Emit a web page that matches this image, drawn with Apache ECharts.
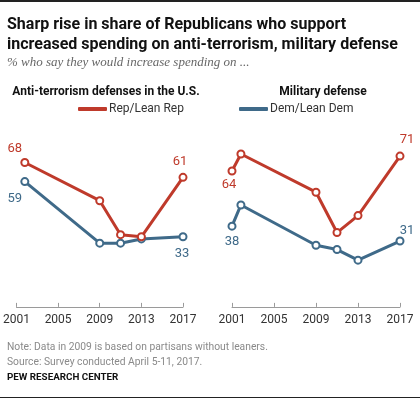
<!DOCTYPE html>
<html>
<head>
<meta charset="utf-8">
<script src="https://cdn.jsdelivr.net/npm/echarts@6/dist/echarts.min.js"></script>
<style>
  html, body { margin: 0; padding: 0; background: #fff; }
  #chart { width: 420px; height: 399px; }
</style>
</head>
<body>
<div id="chart"></div>
<script>
// anti-terrorism panel
const terrorYears = [2001.8, 2009, 2011, 2013, 2017];
const terrorRep = [68, 50, 34, 33, 61];
const terrorDem = [59, 30, 30, 32, 33];

// military panel
const militaryYears = [2001, 2001.85, 2009, 2011, 2013, 2017];
const militaryRep = [64, 72, 54, 35, 43, 71];
const militaryDem = [38, 48, 29, 27, 22, 31];

const yearTicks = [2001, 2005, 2009, 2013, 2017];

const RED = '#bf3a2b';
const BLUE = '#3f6a89';
const FONT = 'Roboto, "Liberation Sans", sans-serif';

// which points get a value label, and where (offset from the marker)
const terrorRepLabels = { 0: [-10, -14], 4: [-3, -16] };
const terrorDemLabels = { 0: [-10, 17], 4: [-1, 17] };
const militaryRepLabels = { 0: [-3, 14], 5: [7, -16] };
const militaryDemLabels = { 0: [0, 16], 5: [7, -10] };

function points(years, values, labels, color) {
  return values.map((v, i) => {
    const item = { value: [years[i], v] };
    if (labels[i]) {
      item.label = {
        show: true,
        position: 'inside',
        offset: labels[i],
        formatter: String(v),
        color: color,
        fontSize: 13,
        fontFamily: FONT
      };
    }
    return item;
  });
}

function lineSeries(name, idx, years, values, labels, color) {
  return {
    name: name,
    type: 'line',
    xAxisIndex: idx,
    yAxisIndex: idx,
    data: points(years, values, labels, color),
    symbol: 'circle',
    symbolSize: 7,
    clip: false,
    lineStyle: { color: color, width: 3 },
    itemStyle: { color: '#fff', borderColor: color, borderWidth: 2 },
    emphasis: { disabled: true },
    z: name.indexOf('Rep') === 0 ? 3 : 2
  };
}

function xAxis(idx) {
  return {
    type: 'value',
    gridIndex: idx,
    min: 2001,
    max: 2017,
    interval: 4,
    axisLine: { lineStyle: { color: '#9a9a9a', width: 1 } },
    axisTick: { inside: true, length: 4, lineStyle: { color: '#9a9a9a' } },
    axisLabel: {
      color: '#333', fontSize: 12, fontFamily: FONT, margin: 5,
      formatter: v => yearTicks.indexOf(v) >= 0 ? String(v) : ''
    },
    splitLine: { show: false }
  };
}

function yAxis(idx) {
  return {
    type: 'value',
    gridIndex: idx,
    min: -1,
    max: 80,
    show: false,
    splitLine: { show: false }
  };
}

function legend(name, left, color) {
  return {
    data: [{ name: name, itemStyle: { color: color, borderWidth: 0 } }],
    left: left, top: 98,
    icon: 'roundRect', itemWidth: 29, itemHeight: 4,
    textStyle: { fontSize: 12, color: '#333', fontFamily: FONT, padding: [0, 0, 0, -3] },
    selectedMode: false
  };
}

const chart = echarts.init(document.getElementById('chart'), null, { renderer: 'canvas' });

chart.setOption({
  animation: false,
  backgroundColor: '#fff',
  title: [
    {
      text: 'Sharp rise in share of Republicans who support\nincreased spending on anti-terrorism, military defense',
      left: 2, top: 10,
      textStyle: { fontSize: 16, fontWeight: 'bold', color: '#111', fontFamily: FONT, lineHeight: 20 }
    },
    {
      text: '% who say they would increase spending on ...',
      left: 2, top: 51,
      textStyle: { fontSize: 13, fontStyle: 'italic', fontWeight: 'normal', color: '#666', fontFamily: '"Liberation Serif", serif' }
    },
    {
      text: 'Anti-terrorism defenses in the U.S.',
      left: 101, top: 81, textAlign: 'center',
      textStyle: { fontSize: 12, fontWeight: 'bold', color: '#111', fontFamily: FONT }
    },
    {
      text: 'Military defense',
      left: 318, top: 81, textAlign: 'center',
      textStyle: { fontSize: 12, fontWeight: 'bold', color: '#111', fontFamily: FONT }
    },
    {
      text: 'Note: Data in 2009 is based on partisans without leaners.\nSource: Survey conducted April 5-11, 2017.',
      left: 2, top: 335,
      textStyle: { fontSize: 10.3, fontWeight: 'normal', color: '#8a8a8a', fontFamily: FONT, lineHeight: 15 }
    },
    {
      text: 'PEW RESEARCH CENTER',
      left: 2, top: 368,
      textStyle: { fontSize: 9.8, fontWeight: 'bold', color: '#111', fontFamily: FONT }
    }
  ],
  legend: [legend('Rep/Lean Rep', 73, RED), legend('Dem/Lean Dem', 234, BLUE)],
  graphic: [
    { type: 'rect', shape: { x: 0, y: 0, width: 420, height: 2 }, style: { fill: '#222' } },
    { type: 'rect', shape: { x: 0, y: 397, width: 420, height: 1 }, style: { fill: '#222' } }
  ],
  grid: [
    { left: 15, width: 168, top: 137, height: 172 },
    { left: 232, width: 168, top: 137, height: 172 }
  ],
  xAxis: [xAxis(0), xAxis(1)],
  yAxis: [yAxis(0), yAxis(1)],
  series: [
    lineSeries('Dem/Lean Dem', 0, terrorYears, terrorDem, terrorDemLabels, BLUE),
    lineSeries('Rep/Lean Rep', 0, terrorYears, terrorRep, terrorRepLabels, RED),
    lineSeries('Dem/Lean Dem', 1, militaryYears, militaryDem, militaryDemLabels, BLUE),
    lineSeries('Rep/Lean Rep', 1, militaryYears, militaryRep, militaryRepLabels, RED)
  ]
});
</script>
</body>
</html>
